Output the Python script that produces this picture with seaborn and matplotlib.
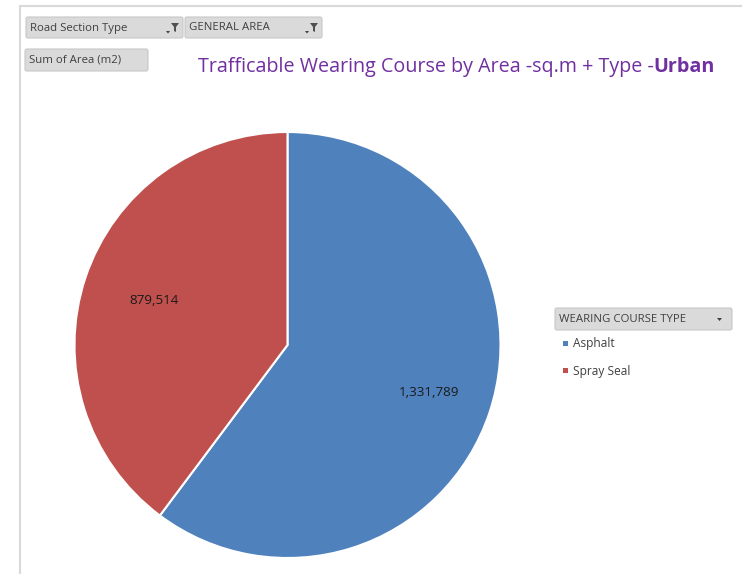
import matplotlib
matplotlib.use("Agg")
import matplotlib.pyplot as plt
from matplotlib.patches import FancyBboxPatch, Rectangle, Polygon
from matplotlib.lines import Line2D
import seaborn as sns

categories = ["Asphalt", "Spray Seal"]
values = [1331789, 879514]
colors = ["#4F81BD", "#C0504D"]
title_main = "Trafficable Wearing Course by Area -sq.m + Type -"
title_bold = "Urban"
legend_title = "WEARING COURSE TYPE"
filter_buttons = ["Road Section Type", "GENERAL AREA"]
value_button = "Sum of Area (m2)"

sns.set_theme(style="white")
plt.rcParams['font.family'] = ['Open Sans', 'DejaVu Sans']
palette = sns.color_palette(colors)

W, H = 742, 574
fig = plt.figure(figsize=(W / 100, H / 100), dpi=100)
fig.patch.set_facecolor("white")

bg = fig.add_axes([0, 0, 1, 1])
bg.set_xlim(0, W)
bg.set_ylim(H, 0)
bg.axis("off")

# frame lines
bg.add_line(Line2D([20, 20], [6, H], color="#D9D9D9", lw=1.5))
bg.add_line(Line2D([20, W], [6, 6], color="#D9D9D9", lw=1.5))

def button(x0, y0, w, h, text, fs=8.2):
    bg.add_patch(FancyBboxPatch((x0, y0), w, h, boxstyle="round,pad=0,rounding_size=2",
                                fc="#DADADA", ec="#C8C8C8", lw=0.8))
    bg.text(x0 + 4, y0 + h / 2 + 0.5, text, fontsize=fs, color="#404040",
            va="center", ha="left")

def funnel(x, y):
    bg.add_patch(Polygon([(x - 6, y + 3), (x - 2, y + 3), (x - 4, y + 5.5)],
                         closed=True, fc="#404040", ec="none"))
    bg.add_patch(Polygon([(x - 1, y - 5), (x + 7, y - 5), (x + 4, y - 1), (x + 4, y + 4),
                          (x + 2, y + 3), (x + 2, y - 1)], closed=True, fc="#505050", ec="none"))

button(26, 17, 157, 21, filter_buttons[0])
funnel(172, 28)
button(185, 17, 137, 21, filter_buttons[1])
funnel(311, 28)
button(25, 49, 123, 22, value_button)

# title (regular part + bold part)
tfs = 14.2
t1 = bg.text(198, 67, title_main, fontsize=tfs, color="#7030A0", va="center", ha="left")
fig.canvas.draw()
x_end_disp = t1.get_window_extent().x1
x_end = bg.transData.inverted().transform((x_end_disp, 0))[0]
bg.text(x_end, 67, title_bold, fontsize=tfs, color="#7030A0", va="center", ha="left",
        fontweight="bold")

# legend
button(555, 308, 177, 22, legend_title, fs=8.2)
bg.add_patch(Polygon([(717, 318), (722, 318), (719.5, 321)], closed=True, fc="#404040", ec="none"))
for i, (cat, y) in enumerate(zip(categories, [344, 371])):
    bg.add_patch(Rectangle((563, y - 3), 5, 5, fc=palette[i], ec="none"))
    bg.text(573, y, cat, fontsize=8.6, color="#404040", va="center", ha="left")

# pie
cx, cy, r = 287.5, 345, 213
ax = fig.add_axes([(cx - r) / W, (H - cy - r) / H, 2 * r / W, 2 * r / H])
wedges, texts = ax.pie(values, colors=palette, startangle=90, counterclock=False,
                       wedgeprops=dict(edgecolor="white", linewidth=1.5),
                       labels=[f"{v:,}" for v in values], labeldistance=1.0,
                       textprops=dict(fontsize=9.6, color="#1a1a1a"))
label_dist = [0.70, 0.66]
for t, d in zip(texts, label_dist):
    x, y = t.get_position()
    t.set_position((x * d, y * d))
    t.set_horizontalalignment("center")
    t.set_verticalalignment("center")
ax.set_xlim(-1, 1)
ax.set_ylim(-1, 1)
ax.set_aspect("equal")
ax.axis("off")

fig.savefig("out.png", dpi=100, facecolor="white")
